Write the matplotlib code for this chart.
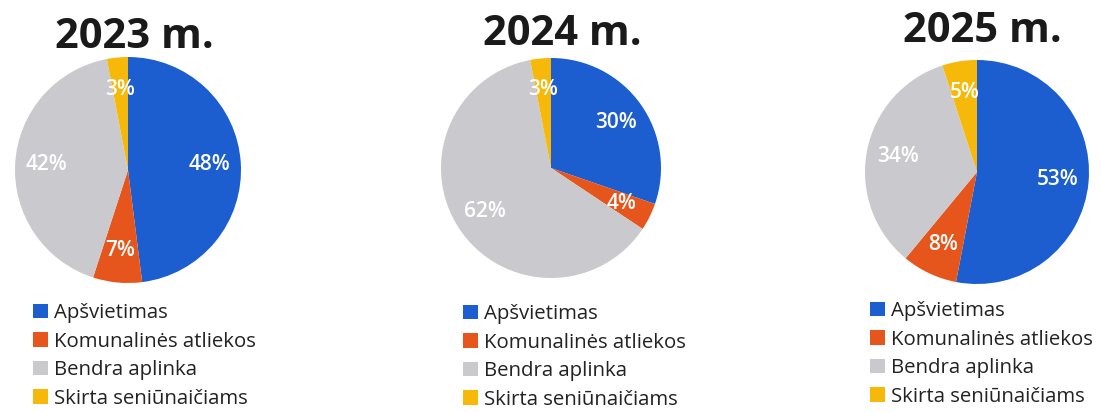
import matplotlib.pyplot as plt
from matplotlib.patches import Patch

plt.rcParams['font.family'] = ['Open Sans', 'DejaVu Sans']

# data
years = ["2023 m.", "2024 m.", "2025 m."]
categories = ["Apšvietimas", "Komunalinės atliekos", "Bendra aplinka", "Skirta seniūnaičiams"]
values_2023 = [48, 7, 42, 3]
values_2024 = [30, 4, 62, 3]
values_2025 = [53, 8, 34, 5]
all_values = [values_2023, values_2024, values_2025]

colors = ["#1c5dcf", "#e6561c", "#cacace", "#f6b909"]

W, H = 1101, 412
fig = plt.figure(figsize=(W / 100, H / 100), dpi=100)

# pixel layout: (center x, center y, radius), title (x, baseline y), legend (x, y)
pies = [(128, 170, 113), (551, 168, 110), (977, 172, 112)]
titles = [(134, 48), (562, 45), (982, 42)]
legends = [(33, 303), (463, 304), (870, 301)]

for vals, year, (cx, cy, r), (tx, ty), (lx, ly) in zip(all_values, years, pies, titles, legends):
    ax = fig.add_axes([(cx - r) / W, (H - cy - r) / H, 2 * r / W, 2 * r / H])
    wedges, texts, autotexts = ax.pie(vals, colors=colors, startangle=90, counterclock=False,
                                      autopct='%d%%', pctdistance=0.72,
                                      wedgeprops=dict(linewidth=0),
                                      textprops=dict(color='white', fontsize=15, fontweight='semibold'))
    for t, v in zip(autotexts, vals):
        t.set_text(f"{v}%")
    ax.set_xlim(-1, 1)
    ax.set_ylim(-1, 1)
    fig.text(tx / W, 1 - ty / H, year, ha='center', va='baseline',
             fontsize=30, fontweight='bold', color='#1a1a1a')
    handles = [Patch(facecolor=c, edgecolor='none') for c in colors]
    fig.legend(handles, categories, loc='upper left', bbox_to_anchor=(lx / W, 1 - ly / H),
               frameon=False, fontsize=14.7, handlelength=0.72, handleheight=0.72,
               handletextpad=0.3, labelspacing=0.42, borderpad=0, borderaxespad=0,
               labelcolor='#222222')

plt.savefig("out.png", dpi=100)
